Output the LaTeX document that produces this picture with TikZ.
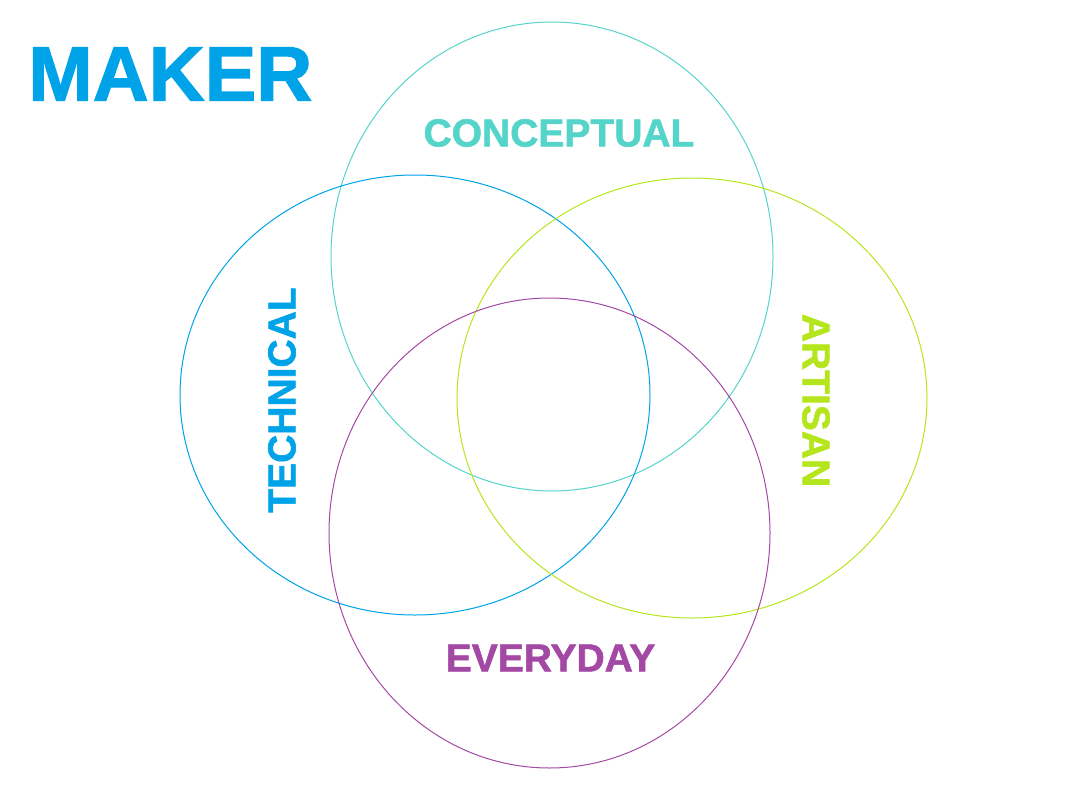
\documentclass[tikz,border=0pt]{standalone}
\usepackage{fontspec}
\usepackage{xcolor}
\usepackage{tikz}
\usetikzlibrary{shapes.geometric, positioning}
\setmainfont{Liberation Sans}[BoldFeatures={FakeBold=1.5}]
\definecolor{technical}{HTML}{00A2E8}
\definecolor{conceptual}{HTML}{55D4CA}
\definecolor{artisan}{HTML}{B5E61D}
\definecolor{everyday}{HTML}{A349A4}
\tikzset{
  field/.style={
    ellipse, inner sep=0pt, line width=1pt,
  },
  fieldlabel/.style={
    inner sep=0pt, font=\fontsize{39}{39}\selectfont\bfseries,
  },
  title/.style={
    inner sep=0pt, font=\fontsize{77.5}{77.5}\selectfont\bfseries,
  },
}
\begin{document}
\begin{tikzpicture}[x=1pt,y=-1pt]
  \useasboundingbox (0,0) rectangle (1079,800);
  % the four circles
  \node[field,draw=conceptual,minimum width=442pt,minimum height=469pt] (conc) at (552,256.5) {};
  \node[field,draw=technical,minimum width=470pt,minimum height=440pt] (tech) at (415,395) {};
  \node[field,draw=artisan,minimum width=470pt,minimum height=440pt] (arti) at (692,398) {};
  \node[field,draw=everyday,minimum width=441pt,minimum height=470pt] (every) at (549.5,533) {};
  % labels
  \node[title,text=technical,anchor=west] (maker) at (28,74) {MAKER};
  \node[fieldlabel,text=conceptual] (concl) at (559,133) {CONCEPTUAL};
  \node[fieldlabel,text=technical,rotate=90] (techl) at (282,400) {TECHNICAL};
  \node[fieldlabel,text=artisan,rotate=-90] (artil) at (816,400.5) {ARTISAN};
  \node[fieldlabel,text=everyday] (everyl) at (550.5,658) {EVERYDAY};
\end{tikzpicture}
\end{document}
